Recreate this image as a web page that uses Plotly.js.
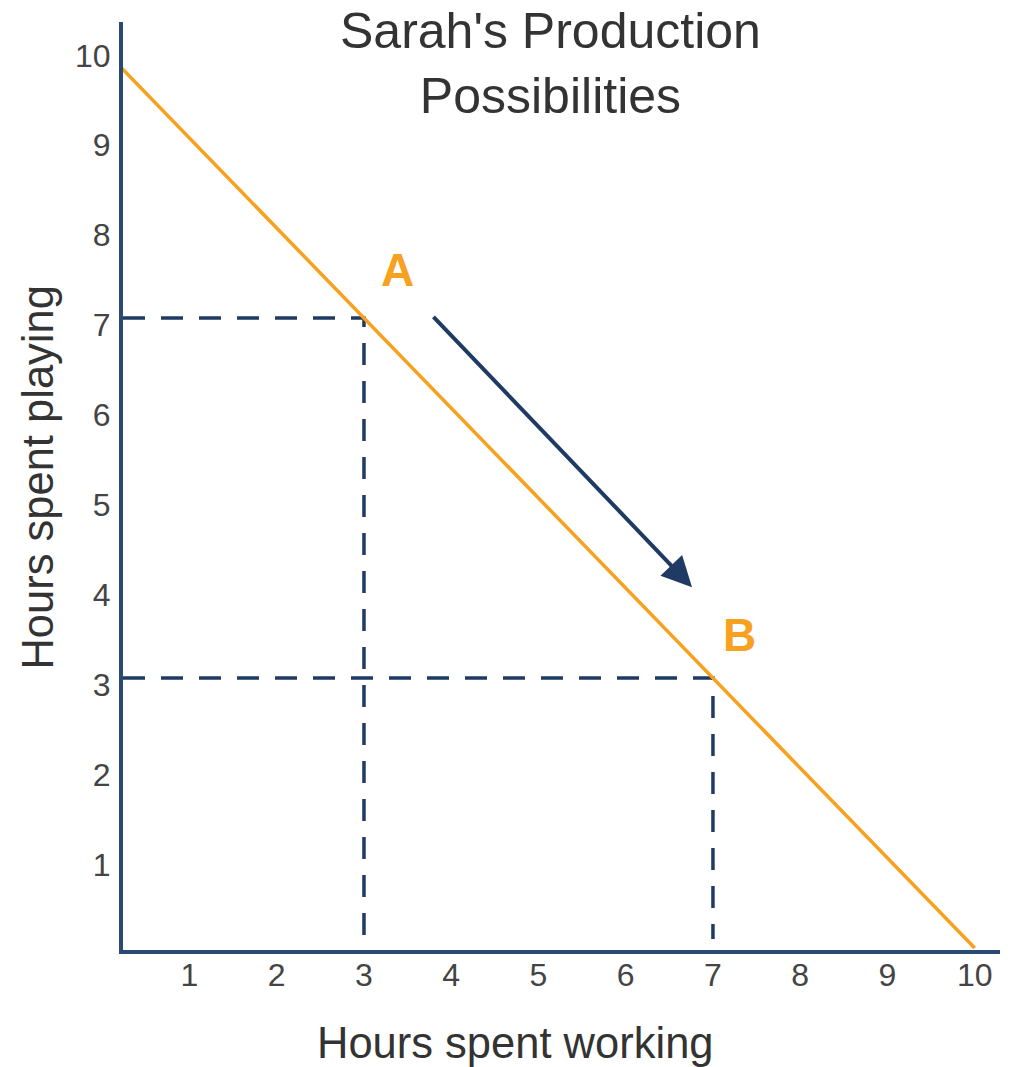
<!DOCTYPE html>
<html>
<head>
<meta charset="utf-8">
<script src="https://cdn.plot.ly/plotly-3.0.1.min.js"></script>
<style>html,body{margin:0;padding:0;background:#fff;}#chart{width:1013px;height:1067px;}</style>
</head>
<body>
<div id="chart"></div>
<script>
// Production possibilities frontier (hours working, hours playing)
var ppfWorking = [0, 10];
var ppfPlaying = [10, 0];
// Points on the frontier
var pointNames = ["A", "B"];
var pointWorking = [3, 7];
var pointPlaying = [7, 3];
// Arrow (movement from A toward B)
var arrowFrom = [3.78, 7.03];
var arrowTo = [6.76, 4.01];
// Tick labels
var xTicks = [1, 2, 3, 4, 5, 6, 7, 8, 9, 10];
var yTicks = [1, 2, 3, 4, 5, 6, 7, 8, 9, 10];

var navy = "#2a4a76";
var dashNavy = "#1f3b63";
var orange = "#f7a11f";
var font = "Liberation Sans, Arial, sans-serif";
var xRange = [0.238, 10.29];
var yRange = [-0.022, 10.29];

var traces = [];
// dashed guides for each point: from the y axis to the point, then down to the x axis
for (var i = 0; i < pointNames.length; i++) {
  traces.push({
    x: [xRange[0], pointWorking[i], pointWorking[i]],
    y: [pointPlaying[i], pointPlaying[i], 0.1],
    mode: "lines",
    line: {color: dashNavy, width: 3.5, dash: "22px,16px"},
    hoverinfo: "skip",
    showlegend: false
  });
}
traces.push({
  x: ppfWorking,
  y: ppfPlaying,
  mode: "lines",
  line: {color: orange, width: 3.5},
  showlegend: false
});

var annotations = [];
var labelOffsets = [[0.38, 0.53], [0.30, 0.48]];
for (var j = 0; j < pointNames.length; j++) {
  annotations.push({
    x: pointWorking[j] + labelOffsets[j][0],
    y: pointPlaying[j] + labelOffsets[j][1],
    xref: "x", yref: "y",
    text: "<b>" + pointNames[j] + "</b>",
    showarrow: false,
    font: {family: font, size: 46, color: orange}
  });
}
annotations.push({
  x: arrowTo[0], y: arrowTo[1], xref: "x", yref: "y",
  ax: arrowFrom[0], ay: arrowFrom[1], axref: "x", ayref: "y",
  text: "", showarrow: true,
  arrowhead: 2, arrowsize: 1.5, arrowwidth: 4, arrowcolor: dashNavy
});
annotations.push({
  x: 0.447, y: -0.1, xref: "paper", yref: "paper",
  xanchor: "center", yanchor: "middle",
  text: "Hours spent working", showarrow: false,
  font: {family: font, size: 43.5, color: "#333"}
});
annotations.push({
  x: -0.097, y: 0.509, xref: "paper", yref: "paper",
  xanchor: "center", yanchor: "middle", textangle: -90,
  text: "Hours spent playing", showarrow: false,
  font: {family: font, size: 43.5, color: "#333"}
});
// chart title
annotations.push({
  x: 0.487, y: 1.023, xref: "paper", yref: "paper",
  xanchor: "center", yanchor: "top",
  text: "Sarah's Production<br>Possibilities", showarrow: false,
  font: {family: font, size: 50, color: "#333"}
});

var layout = {
  width: 1013, height: 1067,
  margin: {l: 123, r: 13, t: 22, b: 117, pad: 0},
  paper_bgcolor: "#fff", plot_bgcolor: "#fff",
  font: {family: font, color: "#444"},
  xaxis: {
    range: xRange,
    tickvals: xTicks, ticktext: xTicks.map(String),
    ticks: "", showgrid: false, zeroline: false,
    showline: true, linecolor: navy, linewidth: 4,
    tickfont: {family: font, size: 32, color: "#444"},
    ticklabelstandoff: -6
  },
  yaxis: {
    range: yRange,
    tickvals: yTicks.map(function(v){return v - 0.08;}), ticktext: yTicks.map(String),
    ticks: "", showgrid: false, zeroline: false,
    showline: true, linecolor: navy, linewidth: 4,
    tickfont: {family: font, size: 32, color: "#444"},
    ticklabelstandoff: 2
  },
  annotations: annotations,
  showlegend: false
};

Plotly.newPlot("chart", traces, layout, {displayModeBar: false, staticPlot: true});
</script>
</body>
</html>
